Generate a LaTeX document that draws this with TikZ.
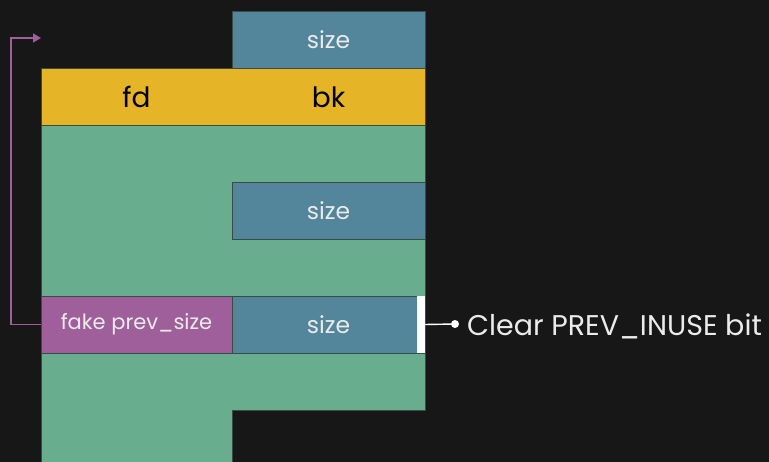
\documentclass[tikz,border=0pt]{standalone}
\usepackage{fontspec}
\setmainfont{Poppins}
\usetikzlibrary{arrows.meta}
\definecolor{bg}{HTML}{171717}
\definecolor{cblue}{HTML}{53869B}
\definecolor{cyellow}{HTML}{E5B527}
\definecolor{cgreen}{HTML}{68AD8E}
\definecolor{cpurple}{HTML}{9E5F9A}
\definecolor{cedge}{HTML}{3A4A44}
\tikzset{
  cell/.style={draw=cedge, line width=0.6pt, inner sep=0pt, outer sep=0pt, anchor=north west, font=\fontsize{23.5}{26}\selectfont},
  bluecell/.style={cell, fill=cblue, text=white!92!black},
  yellowtext/.style={inner sep=0pt, text=black, font=\fontsize{28}{30}\selectfont},
  purplecell/.style={cell, fill=cpurple, text=white!92!black, font=\fontsize{21}{24}\selectfont},
  link/.style={cpurple, line width=1.6pt},
}
\begin{document}
\begin{tikzpicture}[x=1pt,y=-1pt]
\fill[bg] (0,0) rectangle (769,462);
\useasboundingbox (0,0) rectangle (769,462);
% green body
\filldraw[fill=cgreen, draw=cedge, line width=0.6pt] (41,125) -- (425,125) -- (425,410) -- (232,410) -- (232,462) -- (41,462) -- cycle;
% top size
\node[bluecell, minimum width=193pt, minimum height=57pt] (topsize) at (232,11) {size};
% fd bk row
\node[cell, fill=cyellow, minimum width=384pt, minimum height=57pt] (row) at (41,68) {};
\node[yellowtext] (fd) at (136.5,97) {fd};
\node[yellowtext] (bk) at (328.5,97) {bk};
% middle size
\node[bluecell, minimum width=193pt, minimum height=57pt] (midsize) at (232,182) {size};
% fake prev_size row
\node[purplecell, minimum width=191pt, minimum height=57pt] (fake) at (41,296) {fake prev\_size};
\node[bluecell, minimum width=193pt, minimum height=57pt] (lowsize) at (232,296) {size};
\node[cell, draw=none, fill=white, minimum width=8pt, minimum height=57pt] (bit) at (417,296) {};
% arrow
\coordinate (target) at (41,38);
\draw[link, -{Triangle[length=8pt,width=9pt]}] (fake.west) -- ++(-30,0) |- (target);
% clear bit annotation
\node[circle, fill=white, inner sep=0pt, minimum size=8pt] (dot) at (455,324) {};
\draw[white, line width=1.4pt] (bit.east) -- (dot);
\node[anchor=west, text=white!92!black, font=\fontsize{28.5}{30}\selectfont, inner sep=0pt] (clear) at (467,326) {Clear PREV\_INUSE bit};
\end{tikzpicture}
\end{document}
